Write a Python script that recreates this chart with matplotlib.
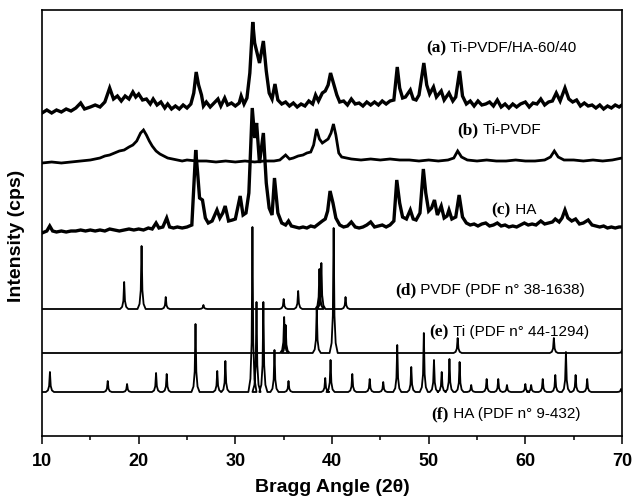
import numpy as np
import matplotlib
matplotlib.use('Agg')
import matplotlib.pyplot as plt

plt.rcParams['font.family'] = ['Liberation Sans', 'DejaVu Sans']

a_pts = [(10.0, 0), (10.5, 3), (11.0, 0), (11.5, 3), (12.0, 1), (12.5, 4), (13.0, 2), (13.5, 5),
         (14.0, 10), (14.4, 4), (15.0, 6), (15.5, 8), (16.0, 6), (16.5, 11), (17.0, 25), (17.4, 14),
         (17.8, 17), (18.2, 12), (18.6, 17), (19.0, 14), (19.4, 21), (19.7, 16), (20.0, 19), (20.4, 13),
         (20.8, 14), (21.2, 9), (21.5, 14), (21.9, 8), (22.3, 11), (22.7, 5), (23.0, 9), (23.4, 4),
         (23.8, 7), (24.2, 4), (24.6, 8), (25.0, 5), (25.4, 9), (25.7, 20), (25.95, 41), (26.2, 28),
         (26.5, 18), (26.7, 7), (27.0, 11), (27.4, 6), (27.8, 10), (28.2, 14), (28.5, 7), (28.9, 15),
         (29.2, 8), (29.6, 10), (30.0, 7), (30.4, 10), (30.6, 17), (30.9, 9), (31.2, 15), (31.5, 40),
         (31.8, 91), (32.0, 70), (32.2, 62), (32.5, 50), (32.9, 72), (33.2, 42), (33.5, 20), (33.8, 14),
         (34.1, 29), (34.4, 13), (34.8, 9), (35.2, 11), (35.6, 7), (36.0, 10), (36.4, 6), (36.8, 9),
         (37.2, 7), (37.6, 12), (38.0, 9), (38.3, 18), (38.6, 12), (39.0, 20), (39.3, 22), (39.6, 28),
         (39.85, 40), (40.2, 28), (40.5, 18), (40.8, 11), (41.2, 12), (41.6, 8), (42.0, 14), (42.4, 9),
         (42.8, 10), (43.2, 7), (43.6, 11), (44.0, 8), (44.4, 11), (44.8, 8), (45.2, 12), (45.6, 9),
         (46.0, 12), (46.4, 13), (46.75, 46), (47.0, 25), (47.3, 15), (47.6, 16), (48.1, 23), (48.4, 14),
         (48.7, 13), (49.0, 18), (49.5, 50), (49.8, 28), (50.1, 19), (50.5, 26), (50.8, 16), (51.3, 22),
         (51.6, 13), (52.1, 20), (52.5, 12), (52.8, 16), (53.2, 42), (53.5, 17), (53.9, 9), (54.3, 12),
         (54.7, 7), (55.1, 12), (55.5, 8), (55.9, 9), (56.3, 11), (56.7, 7), (57.1, 13), (57.5, 6),
         (57.9, 9), (58.3, 5), (58.7, 9), (59.1, 6), (59.5, 9), (60.0, 11), (60.4, 6), (60.8, 10),
         (61.2, 9), (61.6, 14), (62.0, 8), (62.4, 11), (62.8, 12), (63.2, 20), (63.6, 12), (64.1, 25),
         (64.5, 14), (64.9, 11), (65.3, 13), (65.7, 7), (66.1, 10), (66.5, 7), (66.9, 8), (67.3, 5),
         (67.7, 8), (68.1, 4), (68.5, 7), (68.9, 5), (69.3, 8), (69.7, 6), (70.0, 8)]

b_pts = [(10.0, 0), (11.0, 1), (12.0, 0), (13.0, 1), (14.0, 2), (15.0, 3), (15.5, 4), (16.0, 5),
         (16.5, 7), (17.0, 8), (17.5, 10), (18.0, 12), (18.5, 13), (19.0, 16), (19.4, 18), (19.8, 22),
         (20.2, 30), (20.5, 33), (20.8, 28), (21.1, 22), (21.4, 17), (21.8, 12), (22.2, 9), (22.6, 7),
         (23.0, 5), (23.5, 4), (24.0, 3), (24.5, 2), (25.0, 3), (26.0, 2), (27.0, 2), (28.0, 1),
         (29.0, 2), (30.0, 1), (31.0, 2), (32.0, 1), (33.0, 2), (34.0, 2), (34.6, 3), (35.2, 8),
         (35.6, 4), (36.0, 5), (36.5, 7), (37.0, 8), (37.4, 10), (37.8, 11), (38.1, 18), (38.4, 34),
         (38.7, 24), (39.0, 20), (39.3, 22), (39.6, 24), (39.9, 30), (40.15, 39), (40.4, 28), (40.7, 10),
         (41.0, 6), (41.5, 5), (42.0, 4), (43.0, 3), (44.0, 4), (45.0, 3), (46.0, 4), (47.0, 3),
         (48.0, 3), (49.0, 2), (50.0, 3), (51.0, 2), (52.0, 3), (52.6, 5), (53.0, 12), (53.4, 6),
         (54.0, 3), (55.0, 2), (56.0, 3), (57.0, 2), (58.0, 2), (59.0, 3), (60.0, 2), (61.0, 2),
         (62.0, 3), (62.6, 6), (63.0, 12), (63.4, 6), (64.0, 3), (65.0, 3), (66.0, 2), (67.0, 3),
         (68.0, 2), (69.0, 3), (70.0, 5)]

c_pts = [(10.0, 0), (10.5, 2), (10.8, 7), (11.1, 2), (11.5, 1), (12.0, 2), (12.5, 1), (13.0, 2),
         (13.5, 2), (14.0, 3), (14.5, 2), (15.0, 3), (15.5, 2), (16.0, 3), (16.5, 2), (17.0, 4),
         (17.5, 3), (18.0, 2), (18.5, 3), (19.0, 4), (19.5, 3), (20.0, 4), (20.5, 3), (21.0, 5),
         (21.4, 4), (21.8, 10), (22.1, 5), (22.5, 6), (22.9, 15), (23.2, 6), (23.6, 5), (24.0, 6),
         (24.5, 5), (25.0, 6), (25.5, 8), (25.9, 83), (26.1, 60), (26.3, 35), (26.6, 33), (26.9, 15),
         (27.2, 10), (27.6, 12), (28.1, 23), (28.4, 15), (28.7, 20), (28.95, 27), (29.3, 12), (29.7, 13),
         (30.0, 14), (30.5, 37), (30.8, 18), (31.1, 20), (31.4, 40), (31.75, 125), (32.0, 95), (32.2, 110),
         (32.5, 70), (32.9, 100), (33.2, 50), (33.5, 25), (33.8, 18), (34.05, 55), (34.4, 20), (34.8, 10),
         (35.2, 8), (35.5, 12), (35.8, 7), (36.2, 6), (36.6, 5), (37.0, 6), (37.4, 5), (37.8, 7),
         (38.2, 6), (38.6, 9), (39.0, 12), (39.3, 14), (39.55, 22), (39.8, 42), (40.1, 30), (40.4, 15),
         (40.8, 8), (41.2, 6), (41.6, 7), (42.0, 11), (42.4, 6), (42.8, 5), (43.2, 6), (43.6, 8),
         (44.0, 11), (44.4, 6), (44.8, 7), (45.2, 8), (45.6, 6), (46.0, 8), (46.4, 12), (46.7, 53),
         (47.0, 30), (47.3, 16), (47.7, 14), (48.1, 23), (48.4, 14), (48.7, 13), (49.1, 20), (49.45, 64),
         (49.7, 40), (50.0, 22), (50.3, 25), (50.6, 33), (50.9, 18), (51.3, 27), (51.6, 15), (51.9, 17),
         (52.1, 23), (52.4, 14), (52.8, 16), (53.15, 38), (53.5, 16), (53.9, 10), (54.3, 8), (54.7, 9),
         (55.1, 7), (55.5, 9), (55.9, 10), (56.3, 7), (56.7, 8), (57.1, 10), (57.5, 7), (57.9, 8),
         (58.3, 6), (58.7, 7), (59.1, 6), (59.5, 8), (59.9, 10), (60.3, 8), (60.7, 9), (61.1, 8),
         (61.6, 12), (62.0, 9), (62.4, 10), (62.8, 11), (63.1, 14), (63.5, 11), (63.8, 15), (64.1, 23),
         (64.4, 15), (64.8, 12), (65.2, 14), (65.6, 9), (66.0, 10), (66.5, 13), (66.9, 8), (67.3, 7),
         (67.7, 6), (68.1, 7), (68.5, 5), (68.9, 6), (69.3, 5), (69.7, 6), (70.0, 6)]

# reference cards: peak position (2theta) and peak height
d_pos = [18.5, 20.3, 22.8, 26.7, 35.0, 36.5, 38.7, 38.9, 41.4]
d_int = [27, 63, 12, 4, 10, 18, 40, 46, 12]

e_pos = [35.05, 35.2, 38.42, 40.17, 53.0, 62.95, 70.0]
e_int = [36, 28, 44, 125, 15, 15, 3]

f_pos = [10.82, 16.8, 18.8, 21.8, 22.9, 25.88, 28.13, 28.97, 31.77, 32.19, 32.9, 34.05, 35.5,
         39.3, 39.85, 42.1, 43.9, 45.3, 46.75, 48.2, 49.5, 50.55, 51.35, 52.15, 53.2, 54.4, 56.0,
         57.2, 58.1, 60.0, 60.6, 61.8, 63.1, 64.2, 65.2, 66.4, 69.9]
f_int = [20, 11, 8, 19, 18, 68, 21, 31, 165, 90, 90, 42, 11,
         14, 32, 18, 13, 10, 47, 25, 59, 32, 20, 33, 30, 7, 13,
         13, 7, 8, 7, 13, 17, 40, 17, 13, 3]

labels_tag = ['(a)', '(b)', '(c)', '(d)', '(e)', '(f)']
labels_txt = ['Ti-PVDF/HA-60/40', 'Ti-PVDF', 'HA', 'PVDF (PDF n\u00b0 38-1638)',
              'Ti (PDF n\u00b0 44-1294)', 'HA (PDF n\u00b0 9-432)']


def card_profile(pos, inten, w=0.42):
    # narrow spikes on a flat line, one per card reflection
    xs = [10.0]
    ys = [0.0]
    for p, h in sorted(zip(pos, inten)):
        xs += [p - w, p - 0.5 * w, p - 0.2 * w, p - 0.06 * w, p, p + 0.06 * w, p + 0.2 * w, p + 0.5 * w, p + w]
        ys += [0, 0.08 * h, 0.3 * h, 0.8 * h, h, 0.8 * h, 0.3 * h, 0.08 * h, 0]
    xs.append(70.0)
    ys.append(0.0)
    return np.array(xs), np.array(ys)


fig = plt.figure(figsize=(6.33, 4.96), dpi=100)
ax = fig.add_axes([42 / 633, 60 / 496, 580 / 633, 426 / 496])

offs = [323, 273, 203, 127, 83, 44]

for pts, off, lw in zip([a_pts, b_pts, c_pts], offs[:3], [2.4, 2.0, 2.4]):
    x, y = zip(*pts)
    ax.plot(x, np.array(y) + off, color='black', lw=lw, solid_joinstyle='miter')

for (pos, inten), off in zip([(d_pos, d_int), (e_pos, e_int), (f_pos, f_int)], offs[3:]):
    x, y = card_profile(pos, inten)
    ax.plot(x, y + off, color='black', lw=1.3)

# series labels: bold serif tag + sans text
lab_xy = [(49.7, 388), (53.0, 306), (56.5, 226), (46.5, 146), (50.1, 104), (50.3, 22)]
for tag, txt, (lx, ly) in zip(labels_tag, labels_txt, lab_xy):
    t = ax.text(lx, ly, tag, fontsize=12.5, fontweight='bold', va='center',
                family=['Liberation Serif', 'DejaVu Serif'])
    ax.annotate(' ' + txt, xy=(1, 0.5), xycoords=t, va='center', ha='left',
                fontsize=11, family=['Liberation Sans', 'DejaVu Sans'])

ax.set_xlim(10, 70)
ax.set_ylim(0, 426)
ax.set_xticks(np.arange(10, 71, 10))
ax.set_xticks(np.arange(15, 70, 10), minor=True)
ax.set_yticks([])
ax.tick_params(axis='x', which='major', direction='out', length=6, width=1.1, pad=6,
               labelsize=13)
ax.tick_params(axis='x', which='minor', direction='out', length=3, width=1.1)
for lab in ax.get_xticklabels():
    lab.set_fontweight('bold')
for sp in ax.spines.values():
    sp.set_linewidth(1.2)

ax.set_xlabel('Bragg Angle (2\u03b8)', fontsize=14, fontweight='bold')
ax.xaxis.set_label_coords(0.5, -0.1)
ax.set_ylabel('Intensity (cps)', fontsize=14, fontweight='bold')
ax.yaxis.set_label_coords(-0.03, 0.47)

fig.savefig('out.png', dpi=100)
